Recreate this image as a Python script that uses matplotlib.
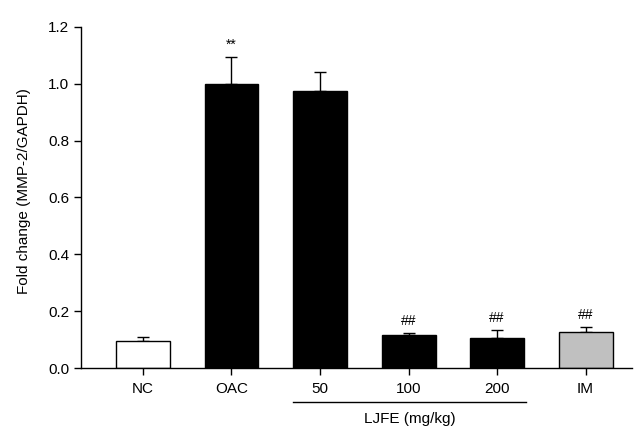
import matplotlib
matplotlib.use("Agg")
import matplotlib.pyplot as plt

categories = ["NC", "OAC", "50", "100", "200", "IM"]
values = [0.095, 1.0, 0.975, 0.116, 0.106, 0.126]
errors = [0.014, 0.095, 0.065, 0.006, 0.027, 0.017]
colors = ["white", "black", "black", "black", "black", "#c0c0c0"]
annotations = ["", "**", "", "##", "##", "##"]
yticks = [0.0, 0.2, 0.4, 0.6, 0.8, 1.0, 1.2]

plt.rcParams['font.family'] = ['Liberation Sans', 'DejaVu Sans']

fig = plt.figure(figsize=(6.35, 4.34), dpi=100)
ax = fig.add_axes([0.1276, 0.152, 0.867, 0.786])

x = list(range(len(categories)))
ax.bar(x, values, width=0.61, color=colors, edgecolor="black", linewidth=1.0, zorder=2)
ax.errorbar(x, values, yerr=[[0]*len(errors), errors], fmt="none", ecolor="black",
            elinewidth=1.0, capsize=4.3, capthick=1.0, zorder=1)

for xi, v, e, a in zip(x, values, errors, annotations):
    if a:
        ax.text(xi, v + e + 0.018, a, ha="center", va="bottom", fontsize=10)

ax.set_xlim(-0.7, 5.52)
ax.set_ylim(0, 1.2)
ax.set_yticks(yticks)
ax.set_yticklabels([f"{t:.1f}" for t in yticks])
ax.set_xticks(x)
ax.set_xticklabels(categories)
ax.tick_params(direction="out", length=5, width=1.0, labelsize=11, colors="black")
ax.tick_params(axis="x", pad=5)
for s in ["top", "right"]:
    ax.spines[s].set_visible(False)
for s in ["left", "bottom"]:
    ax.spines[s].set_linewidth(1.0)
ax.set_ylabel("Fold change (MMP-2/GAPDH)", fontsize=11, labelpad=8)
ax.yaxis.set_label_coords(-0.09, 0.52)

# LJFE group line and label
ax.plot([1.69, 4.33], [-0.118, -0.118], color="black", linewidth=1.0, clip_on=False)
ax.text(3.02, -0.18, "LJFE (mg/kg)", ha="center", va="center", fontsize=11)

fig.savefig("out.png", dpi=100)
